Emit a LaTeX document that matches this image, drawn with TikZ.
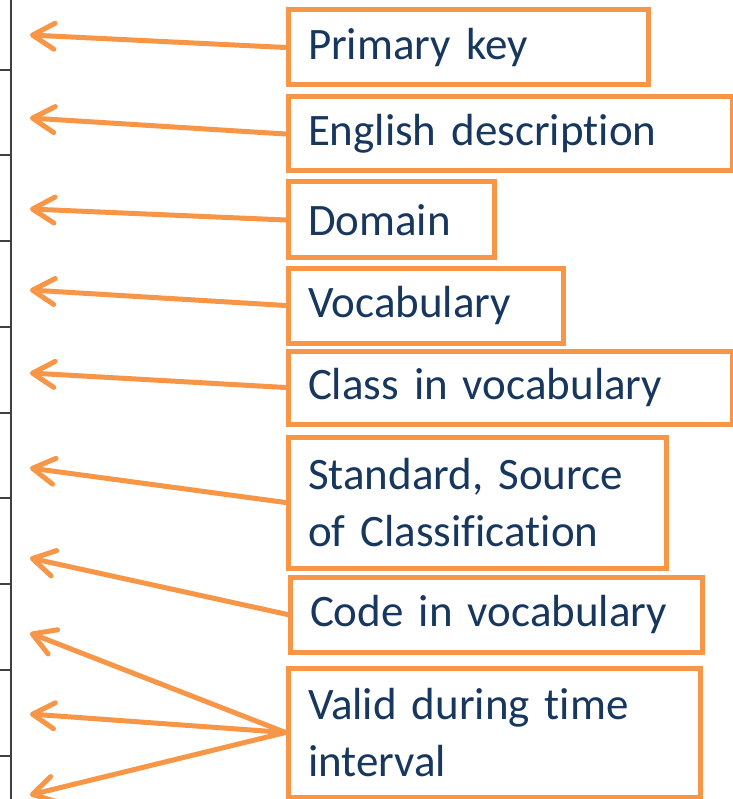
\documentclass[tikz,border=0pt]{standalone}
\usepackage{fontspec}
\setmainfont{Carlito}[Ligatures=NoCommon]
\usepackage{tikz}
\usetikzlibrary{calc, arrows.meta}

\definecolor{boxorange}{HTML}{F79646}
\definecolor{labelblue}{HTML}{17375E}
\definecolor{rulegray}{HTML}{404040}

\begin{document}
\begin{tikzpicture}[x=1pt, y=-1pt,
        fieldbox/.style={draw=boxorange, line width=5pt, anchor=north west,
            inner xsep=20pt, inner ysep=0pt, align=left, text=labelblue,
            font=\fontsize{45}{57}\selectfont},
        pointer/.style={draw=boxorange, line width=5pt, line cap=round,
            -{Straight Barb[length=22pt, width=26pt, line cap=round, line join=round]}}]
        \useasboundingbox (0,0) rectangle (732,799);
        \draw[rulegray, line width=2pt] (11,0) -- (11,799);
        \foreach \y in {70,155.5,241,327,413,498,584,670,756}
            \draw[rulegray, line width=2pt] (0,\y) -- (11,\y);
        \foreach \i/\y in {1/35,2/118,3/209,4/290,5/373,6/468,7/558,8/633,9/714,10/795}
            \coordinate (tip\i) at (30,\y);
        \node[fieldbox, text width=320pt, minimum height=75pt] (key) at (285.5,7.5) {Primary key};
        \node[fieldbox, text width=404pt, minimum height=74pt] (descr) at (285.5,94.5) {English description};
        \node[fieldbox, text width=166pt, minimum height=76pt] (domain) at (285.5,179.5) {Domain};
        \node[fieldbox, text width=235pt, minimum height=75pt] (vocab) at (285.5,265.5) {Vocabulary};
        \node[fieldbox, text width=404pt, minimum height=73pt] (class) at (285.5,348.5) {Class in vocabulary};
        \node[fieldbox, text width=338pt, minimum height=131pt] (source) at (285.5,434.5) {Standard, Source\\of Classification};
        \node[fieldbox, text width=372pt, minimum height=75pt] (code) at (287.5,574.5) {Code in vocabulary};
        \node[fieldbox, text width=372pt, minimum height=129pt] (valid) at (285.5,665.5) {Valid during time\\interval};
        \draw[pointer] (key.west) -- (tip1);
        \draw[pointer] (descr.west) -- (tip2);
        \draw[pointer] (domain.west) -- (tip3);
        \draw[pointer] (vocab.west) -- (tip4);
        \draw[pointer] (class.west) -- (tip5);
        \draw[pointer] (source.west) -- (tip6);
        \draw[pointer] (code.west) -- (tip7);
        \foreach \i in {8,9,10}
            \draw[pointer] (valid.west) -- (tip\i);
\end{tikzpicture}
\end{document}
